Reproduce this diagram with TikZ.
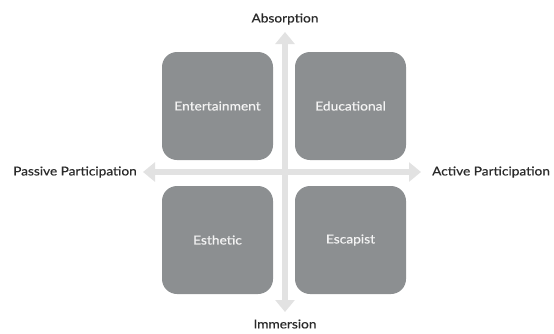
\documentclass[tikz,border=0pt]{standalone}
\usepackage{fontspec}
\setmainfont{Lato}[FakeStretch=1.12, FakeBold=0.45]
\usetikzlibrary{arrows.meta}
\definecolor{boxgray}{HTML}{8C8F91}
\definecolor{axisgray}{HTML}{E2E2E2}
\definecolor{labelink}{HTML}{2A2A2A}
\definecolor{boxink}{HTML}{F4F4F4}
\tikzset{
  quad/.style={fill=boxgray, draw=none, rounded corners=15pt,
    minimum width=111pt, minimum height=108pt, inner sep=0pt,
    text=boxink, font=\fontsize{12.3}{14}\selectfont},
  axis/.style={draw=axisgray, line width=6pt,
    -{Triangle[width=19pt,length=12pt]}},
  axislabel/.style={text=labelink, inner sep=0pt, font=\fontsize{12.2}{14}\selectfont}
}
\begin{document}
\begin{tikzpicture}[x=1pt,y=-1pt]
  \useasboundingbox (0,0) rectangle (554,333);
  % axes from the centre outwards
  \coordinate (c) at (285,172);
  \coordinate (top) at (285,32);
  \coordinate (bottom) at (285,312);
  \coordinate (left) at (143,172);
  \coordinate (right) at (421,172);
  \draw[axis] (c) -- (top);
  \draw[axis] (c) -- (bottom);
  \draw[axis] (c) -- (left);
  \draw[axis] (c) -- (right);
  % the four experience realms
  \node[quad] (ent) at (217.5,106) {Entertainment};
  \node[quad] (edu) at (350.5,106) {Educational};
  \node[quad] (est) at (217.5,240) {Esthetic};
  \node[quad] (esc) at (350.5,240) {Escapist};
  % axis labels
  \node[axislabel] (abs) at (285,19) {Absorption};
  \node[axislabel] (imm) at (285,324) {Immersion};
  \node[axislabel, anchor=east] (pas) at (137,172) {Passive Participation};
  \node[axislabel, anchor=west] (act) at (432,172) {Active Participation};
\end{tikzpicture}
\end{document}
